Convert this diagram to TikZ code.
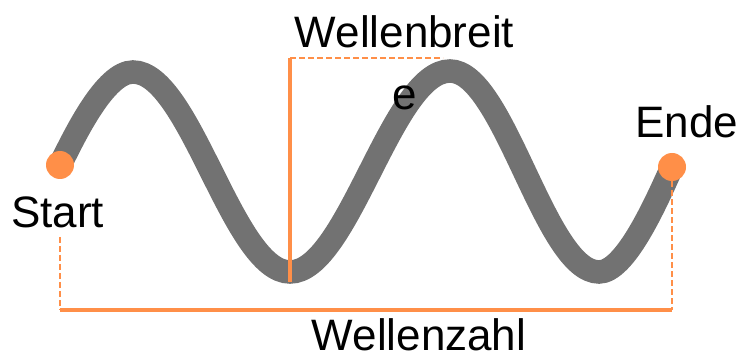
\documentclass[tikz,border=0pt]{standalone}
\usepackage{fontspec}
\setmainfont{Liberation Sans}
\usetikzlibrary{positioning}
\definecolor{wellorange}{RGB}{255,143,72}
\definecolor{wellgrau}{RGB}{114,114,114}

\begin{document}
\begin{tikzpicture}[x=1pt,y=-1pt,
    beschriftung/.style={font=\fontsize{44}{62}\selectfont,inner sep=0pt,anchor=base,align=center},
    punkt/.style={circle,fill=wellorange,minimum size=28pt,inner sep=0pt},
    mass/.style={wellorange,line width=3.5pt},
    hilfslinie/.style={wellorange,line width=2pt,dash pattern=on 6pt off 3pt}]
  \useasboundingbox (0,0) rectangle (742,358);
  % Stuetzpunkte der Welle
  \coordinate (S)  at (60,165);
  \coordinate (B1) at (133,72);
  \coordinate (T1) at (290,272);
  \coordinate (B2) at (450,71);
  \coordinate (T2) at (599,272);
  \coordinate (E)  at (672,167);
  % Welle
  \draw[wellgrau,line width=23.5pt]
    (S) .. controls (75,135) and (105,72) .. (B1)
        .. controls (190,72) and (233,272) .. (T1)
        .. controls (348,272) and (392,71) .. (B2)
        .. controls (504,71) and (545,272) .. (T2)
        .. controls (625,272) and (655,205) .. (E);
  % Anfangs- und Endpunkt
  \node[punkt] (start) at (S) {};
  \node[punkt] (ende) at (E) {};
  % Wellenbreite
  \coordinate (breitoben) at (290,58);
  \coordinate (breitunten) at (290,282);
  \coordinate (breitrechts) at (443,58);
  \draw[mass] (breitunten) -- (breitoben);
  \draw[hilfslinie] (breitoben) -- (breitrechts);
  % Wellenzahl
  \coordinate (zahllinks) at (60,310);
  \coordinate (zahlrechts) at (672,310);
  \draw[mass] (zahllinks) -- (zahlrechts);
  \draw[hilfslinie] (60,237) -- (zahllinks);
  \draw[hilfslinie] (ende.south) -- (zahlrechts);
  % Beschriftungen
  \node[beschriftung] (startlabel) at (57.5,228) {Start};
  \node[beschriftung] (endelabel) at (687,138) {Ende};
  \node[beschriftung] (breitlabel) at (404.5,110) {Wellenbreit\\e};
  \node[beschriftung] (zahllabel) at (419,350) {Wellenzahl};
\end{tikzpicture}
\end{document}
